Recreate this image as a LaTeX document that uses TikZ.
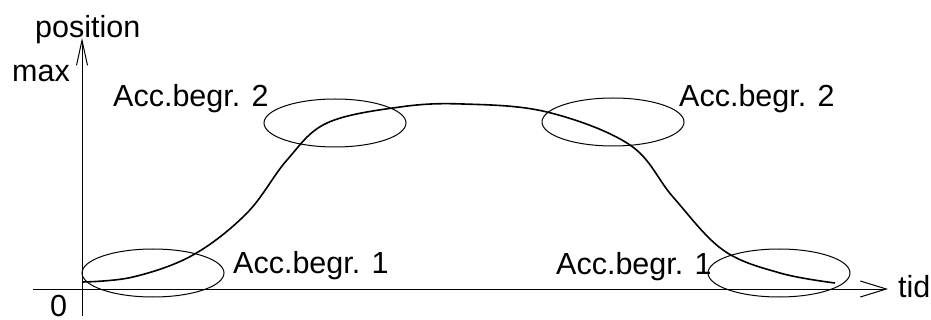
\documentclass[tikz,border=0pt]{standalone}
\usepackage{fontspec}
\setmainfont{Liberation Sans}
\usetikzlibrary{arrows.meta}

\tikzset{
  lbl/.style={anchor=base west, inner sep=0pt, font=\fontsize{30.5}{31}\selectfont},
  zone/.style={line width=1pt},
  axis/.style={line width=1pt}
}

\begin{document}
\begin{tikzpicture}[x=1pt,y=-1pt]
\useasboundingbox (0,0) rectangle (931,320);

% axes
\coordinate (o) at (82,289);
\coordinate (ybot) at (82,316);
\coordinate (ytop) at (82,38);
\coordinate (xleft) at (33,289);
\coordinate (xright) at (888,289);
\draw[axis,-{Straight Barb[length=25pt,width=11pt]}] (ybot) -- (ytop);
\draw[axis,-{Straight Barb[length=26pt,width=16pt]}] (xleft) -- (xright);

\node[lbl] (pos) at (35,38) {position};
\node[lbl] (max) at (12,82) {max};
\node[lbl] (zero) at (50,316) {0};
\node[lbl] (tid) at (898,297) {tid};

% the four zones
\foreach \n/\cx/\cy in {a/153/273, b/335/123, c/613/122, d/779/273}
  \draw[zone] (\cx,\cy) ellipse [x radius=71, y radius=24];

\node[lbl] (begrA) at (233,273) {Acc.begr. 1};
\node[lbl] (begrB) at (113,107) {Acc.begr. 2};
\node[lbl] (begrC) at (679,107) {Acc.begr. 2};
\node[lbl] (begrD) at (556,274) {Acc.begr. 1};

% position curve
\draw[line width=1.6pt] plot[smooth, tension=0.6] coordinates {
  (82,282) (133,277) (193,255) (247,213) (287,160) (327,123)
  (400,107) (463,104) (547,112) (630,145) (673,197) (723,250)
  (780,273) (835,283)};

\end{tikzpicture}
\end{document}
